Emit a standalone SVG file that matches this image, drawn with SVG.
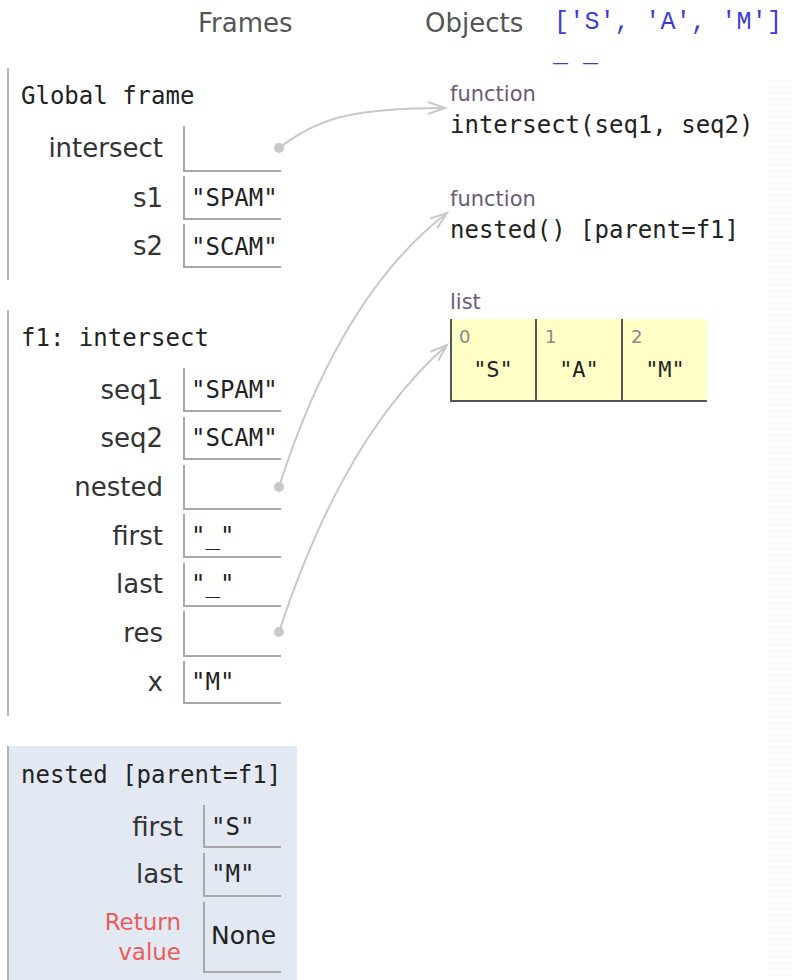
<svg xmlns="http://www.w3.org/2000/svg" width="792" height="980" viewBox="0 0 792 980">
  <defs>
    <style>
      .hdr { font-family: "DejaVu Sans", Verdana, sans-serif; font-size: 26px; fill: #555; }
      .mono { font-family: "DejaVu Sans Mono", "Liberation Mono", monospace; font-size: 24px; fill: #222; }
      .var { font-family: "DejaVu Sans", Verdana, sans-serif; font-size: 26px; fill: #333; text-anchor: end; }
      .ret { font-family: "DejaVu Sans", Verdana, sans-serif; font-size: 23px; fill: #ec5b5b; text-anchor: end; }
      .sans { font-family: "DejaVu Sans", Verdana, sans-serif; font-size: 25px; fill: #222; }
      .type { font-family: "DejaVu Sans", Verdana, sans-serif; font-size: 21px; fill: #6a5a78; }
      .idx { font-family: "DejaVu Sans", Verdana, sans-serif; font-size: 18px; fill: #888; }
      .lval { font-family: "DejaVu Sans Mono", "Liberation Mono", monospace; font-size: 22px; fill: #222; text-anchor: middle; }
      .out { font-family: "Courier New", "Liberation Mono", monospace; font-size: 25px; fill: #3b3bd8; }
      .frameline { stroke: #b4b4b4; stroke-width: 2; fill: none; }
      .box { stroke: #a8a8a8; stroke-width: 2; fill: none; }
      .cell { stroke: #555; stroke-width: 2; fill: none; }
      .conn { stroke: #c8c8c8; stroke-width: 2; fill: none; marker-end: url(#arrow); }
      .dot { fill: #c8c8c8; }
    </style>
    <marker id="arrow" markerUnits="userSpaceOnUse" markerWidth="22" markerHeight="16" refX="19" refY="8" orient="auto">
      <path d="M2,2 L19,8 L2,14" stroke="#c8c8c8" stroke-width="2" fill="none"/>
    </marker>
    <pattern id="zig" width="8" height="6" patternUnits="userSpaceOnUse">
      <polyline points="0,4 2,2 4,4 6,2 8,4" stroke="#f1f1f1" stroke-width="1" fill="none"/>
    </pattern>
  </defs>

  <rect x="768" y="78" width="24" height="902" fill="url(#zig)"/>

  <g id="header">
    <text class="hdr" x="198" y="32">Frames</text>
    <text class="hdr" x="425" y="32">Objects</text>
    <text class="out" x="554" y="29" textLength="228">['S', 'A', 'M']</text>
    <text class="out" x="553" y="61">_ _</text>
  </g>

  <g id="global-frame">
    <line class="frameline" x1="8" y1="68" x2="8" y2="280"/>
    <text class="mono" x="21" y="104">Global frame</text>
    <text class="var" x="163" y="157">intersect</text>
    <path class="box" d="M184,126 V171 H281"/>
    <text class="var" x="163" y="207">s1</text>
    <path class="box" d="M184,176 V219 H281"/>
    <text class="mono" x="191" y="206">"SPAM"</text>
    <text class="var" x="163" y="255">s2</text>
    <path class="box" d="M184,224 V267 H281"/>
    <text class="mono" x="191" y="255">"SCAM"</text>
  </g>

  <g id="f1-frame">
    <line class="frameline" x1="8" y1="310" x2="8" y2="716"/>
    <text class="mono" x="21" y="346">f1: intersect</text>
    <text class="var" x="163" y="399">seq1</text>
    <path class="box" d="M184,368 V411 H281"/>
    <text class="mono" x="191" y="398">"SPAM"</text>
    <text class="var" x="163" y="447">seq2</text>
    <path class="box" d="M184,417 V459 H281"/>
    <text class="mono" x="191" y="446">"SCAM"</text>
    <text class="var" x="163" y="496">nested</text>
    <path class="box" d="M184,465 V509 H281"/>
    <text class="var" x="163" y="545">first</text>
    <path class="box" d="M184,514 V557 H281"/>
    <text class="mono" x="191" y="544">"_"</text>
    <text class="var" x="163" y="593">last</text>
    <path class="box" d="M184,563 V606 H281"/>
    <text class="mono" x="191" y="592">"_"</text>
    <text class="var" x="163" y="642">res</text>
    <path class="box" d="M184,611 V656 H281"/>
    <text class="var" x="163" y="691">x</text>
    <path class="box" d="M184,661 V703 H281"/>
    <text class="mono" x="191" y="690">"M"</text>
  </g>

  <g id="nested-frame">
    <rect x="8" y="746" width="289" height="234" fill="#e2e9f3"/>
    <line class="frameline" x1="8" y1="746" x2="8" y2="980"/>
    <text class="mono" x="21" y="783">nested [parent=f1]</text>
    <text class="var" x="183" y="836">first</text>
    <path class="box" d="M204,805 V847 H281"/>
    <text class="mono" x="211" y="835">"S"</text>
    <text class="var" x="183" y="883">last</text>
    <path class="box" d="M204,853 V896 H281"/>
    <text class="mono" x="211" y="882">"M"</text>
    <text class="ret" x="181" y="930">Return</text>
    <text class="ret" x="181" y="960">value</text>
    <path class="box" d="M204,902 V972 H281"/>
    <text class="sans" x="211" y="944">None</text>
  </g>

  <g id="obj-intersect">
    <text class="type" x="450" y="101">function</text>
    <text class="mono" x="450" y="133">intersect(seq1, seq2)</text>
  </g>

  <g id="obj-nested">
    <text class="type" x="450" y="206">function</text>
    <text class="mono" x="450" y="238">nested() [parent=f1]</text>
  </g>

  <g id="obj-list">
    <text class="type" x="450" y="309">list</text>
    <rect x="450" y="319" width="257" height="82" fill="#ffffc6"/>
    <path class="cell" d="M451,319 V401 H536"/>
    <path class="cell" d="M536,319 V401 H622"/>
    <path class="cell" d="M622,319 V401 H707"/>
    <text class="idx" x="459" y="343">0</text>
    <text class="idx" x="545" y="343">1</text>
    <text class="idx" x="631" y="343">2</text>
    <text class="lval" x="493" y="377">"S"</text>
    <text class="lval" x="579" y="377">"A"</text>
    <text class="lval" x="665" y="377">"M"</text>
  </g>

  <g id="connectors">
    <path class="conn" d="M279,148 C318,118 352,108 445,108"/>
    <circle class="dot" cx="279" cy="148" r="5"/>
    <path class="conn" d="M279,487 C310,390 360,280 447,213"/>
    <circle class="dot" cx="279" cy="487" r="5"/>
    <path class="conn" d="M279,632 C312,532 362,420 447,345"/>
    <circle class="dot" cx="279" cy="632" r="5"/>
  </g>
</svg>
